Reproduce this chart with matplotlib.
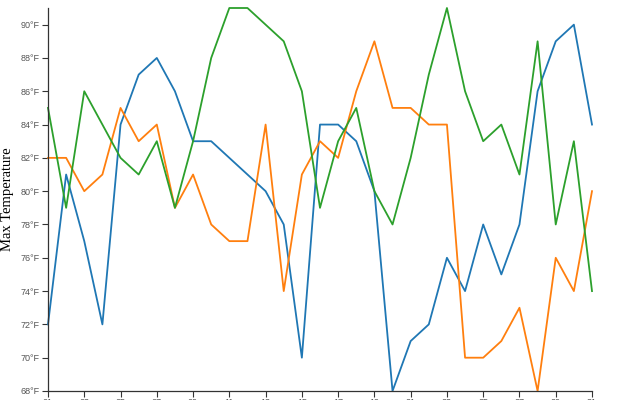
import matplotlib
matplotlib.use("Agg")
import matplotlib.pyplot as plt

# daily max temperatures (°F), 31 days
days = list(range(1, 32))
series_blue = [72, 81, 77, 72, 84, 87, 88, 86, 83, 83, 82, 81, 80, 78, 70, 84,
               84, 83, 80, 68, 71, 72, 76, 74, 78, 75, 78, 86, 89, 90, 84]
series_orange = [82, 82, 80, 81, 85, 83, 84, 79, 81, 78, 77, 77, 84, 74, 81, 83,
                 82, 86, 89, 85, 85, 84, 84, 70, 70, 71, 73, 68, 76, 74, 80]
series_green = [85, 79, 86, 84, 82, 81, 83, 79, 83, 88, 91, 91, 90, 89, 86, 79,
                83, 85, 80, 78, 82, 87, 91, 86, 83, 84, 81, 89, 78, 83, 74]
y_ticks = list(range(68, 92, 2))
x_ticks = days[::2]

fig = plt.figure(figsize=(6.4, 4.0), dpi=100)
ax = fig.add_axes([48 / 640, 9 / 400, 544 / 640, 383 / 400])

for vals, col in [(series_blue, "#1f77b4"), (series_orange, "#ff7f0e"),
                  (series_green, "#2ca02c")]:
    ax.plot(days, vals, color=col, lw=1.3, clip_on=False)

ax.set_xlim(1, 31)
ax.set_ylim(68, 91)
ax.set_yticks(y_ticks)
ax.set_yticklabels([f"{t}°F" for t in y_ticks])
ax.set_xticks(x_ticks)
ax.set_xticklabels([f"{d:02d}" for d in x_ticks])

for s in ["top", "right"]:
    ax.spines[s].set_visible(False)
for s in ["left", "bottom"]:
    ax.spines[s].set_color("#333333")
    ax.spines[s].set_linewidth(0.9)
ax.tick_params(axis="both", length=4.3, width=0.8, color="#333333",
               labelsize=6.5, labelcolor="#555555", labelfontfamily="Liberation Sans")
ax.tick_params(axis="x", pad=1)
ax.tick_params(axis="y", pad=1.5)

ax.set_ylabel("Max Temperature", family="Liberation Serif", fontsize=10.5,
              color="black", va="center")
ax.yaxis.set_label_coords(-40 / 544, 0.5)

fig.savefig("out.png", dpi=100)
